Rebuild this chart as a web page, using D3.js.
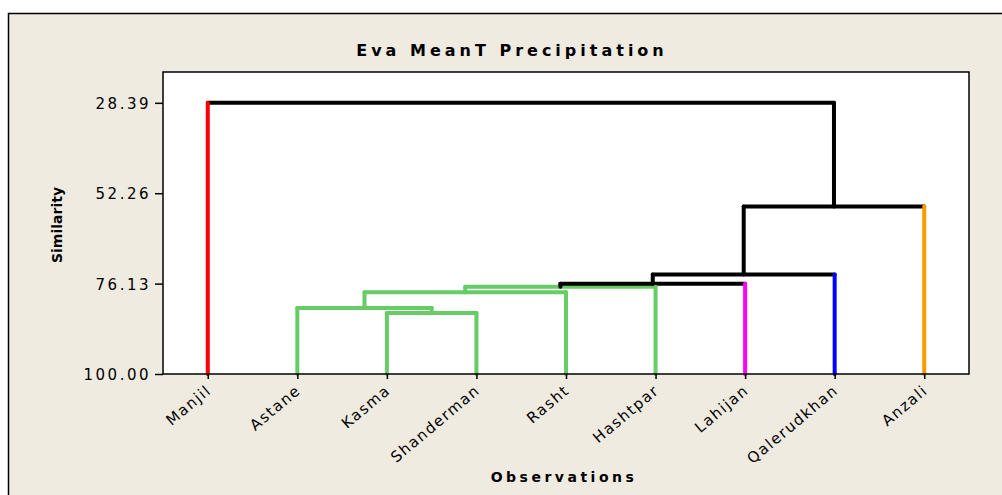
<!DOCTYPE html>
<html>
<head>
<meta charset="utf-8">
<script src="https://cdn.jsdelivr.net/npm/d3@7"></script>
<style>
  body { margin: 0; background: #fff; }
  text { font-family: "DejaVu Sans", Verdana, sans-serif; fill: #000; }
</style>
</head>
<body>
<svg id="chart" width="1002" height="495"></svg>
<script>
// leaves in dendrogram order
var observations = ["Manjil", "Astane", "Kasma", "Shanderman", "Rasht", "Hashtpar", "Lahijan", "Qalerudkhan", "Anzali"];
// final cluster of each leaf
var leafCluster = [0, 1, 1, 1, 1, 1, 2, 3, 4];
var clusterColors = ["#ff0000", "#66cc66", "#ff00ff", "#0000ff", "#ff9900"];
// merges: two node ids (leaves 0..8, merged nodes 9..) and similarity level
var mergeA = [2, 1, 10, 11, 12, 13, 14, 0];
var mergeB = [3, 9, 4, 5, 6, 7, 8, 15];
var mergeSim = [83.9, 82.6, 78.4, 76.95, 76.2, 73.7, 55.8, 28.39];
var yTicks = [28.39, 52.26, 76.13, 100.00];

var svg = d3.select("#chart");
var plotL = 163, plotR = 969, plotT = 72, plotB = 374;

// outer panel
svg.append("rect")
  .attr("x", 8.5).attr("y", 13.5)
  .attr("width", 1002).attr("height", 500)
  .style("fill", "#efebe1").style("stroke", "#000").style("stroke-width", 1.5);

svg.append("rect")
  .attr("x", plotL).attr("y", plotT)
  .attr("width", plotR - plotL).attr("height", plotB - plotT)
  .style("fill", "#fff");

var x = d3.scalePoint().domain(observations).range([plotL, plotR]).padding(0.5);
var y = d3.scaleLinear().domain([100, 20.25]).range([plotB, plotT]);

// build nodes
var nodes = observations.map(function(name, i) {
  return { x: x(name), sim: 100, cluster: leafCluster[i], leaf: true };
});
mergeA.forEach(function(a, i) {
  var na = nodes[a], nb = nodes[mergeB[i]];
  var same = na.cluster === nb.cluster;
  nodes.push({ x: (na.x + nb.x) / 2, sim: mergeSim[i], cluster: same ? na.cluster : -1, leaf: false, a: na, b: nb });
});

function legColor(child, parent) {
  if (child.leaf || (parent.cluster === child.cluster && child.cluster >= 0)) return clusterColors[child.cluster];
  return "#000";
}

var links = svg.append("g")
  .style("fill", "none")
  .style("stroke-width", 4)
  .style("stroke-linecap", "round")
  .style("stroke-linejoin", "round");

nodes.filter(function(d) { return !d.leaf; }).forEach(function(n) {
  links.append("line")
    .attr("x1", n.a.x).attr("y1", y(n.sim))
    .attr("x2", n.b.x).attr("y2", y(n.sim))
    .style("stroke", n.cluster >= 0 ? clusterColors[n.cluster] : "#000");
});
nodes.filter(function(d) { return !d.leaf; }).forEach(function(n) {
  [n.a, n.b].forEach(function(c) {
    links.append("line")
      .attr("x1", c.x).attr("y1", y(c.sim))
      .attr("x2", c.x).attr("y2", y(n.sim))
      .style("stroke", legColor(c, n));
  });
});

// y axis
var yAxis = svg.append("g")
  .attr("transform", "translate(" + plotL + ",0)")
  .call(d3.axisLeft(y).tickValues(yTicks).tickFormat(d3.format(".2f")).tickSize(8).tickPadding(4));
yAxis.select(".domain").remove();
yAxis.selectAll("line").style("stroke", "#000").style("stroke-width", 1.5);
yAxis.selectAll("text")
  .style("font-size", "15px")
  .style("letter-spacing", "2.5px")
  .style("font-family", "DejaVu Sans")
  .attr("dy", "0.36em");

// x axis
var xAxis = svg.append("g")
  .attr("transform", "translate(0," + plotB + ")")
  .call(d3.axisBottom(x).tickSize(5).tickPadding(0));
xAxis.select(".domain").remove();
xAxis.selectAll("line").style("stroke", "#000").style("stroke-width", 1.5);
xAxis.selectAll("text")
  .style("font-size", "15px")
  .style("letter-spacing", "1.5px")
  .style("font-family", "DejaVu Sans")
  .attr("text-anchor", "end")
  .attr("y", 0).attr("dy", 0)
  .attr("transform", "translate(4,18) rotate(-40)");

// plot border on top
svg.append("rect")
  .attr("x", plotL).attr("y", plotT)
  .attr("width", plotR - plotL).attr("height", plotB - plotT)
  .style("fill", "none").style("stroke", "#000").style("stroke-width", 1.5);

// titles
svg.append("text")
  .attr("x", 512).attr("y", 56)
  .attr("text-anchor", "middle")
  .style("font-size", "16px").style("font-weight", "bold").style("letter-spacing", "4px")
  .text("Eva MeanT Precipitation");

svg.append("text")
  .attr("x", 564).attr("y", 482)
  .attr("text-anchor", "middle")
  .style("font-size", "14px").style("font-weight", "bold").style("letter-spacing", "3.5px")
  .text("Observations");

svg.append("text")
  .attr("transform", "translate(62,225) rotate(-90)")
  .attr("text-anchor", "middle")
  .style("font-size", "14px").style("font-weight", "bold")
  .text("Similarity");
</script>
</body>
</html>
